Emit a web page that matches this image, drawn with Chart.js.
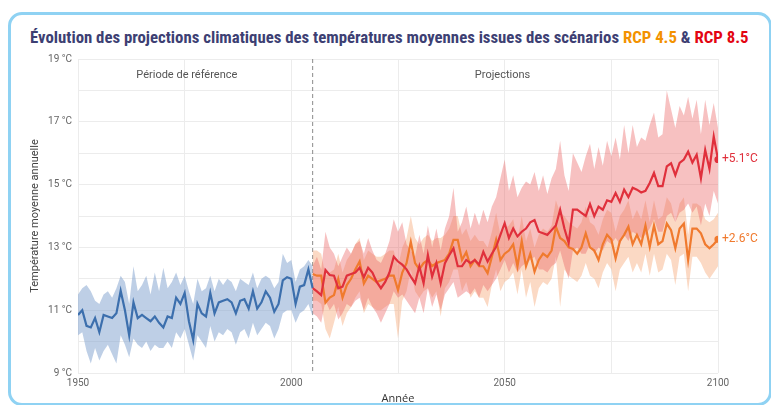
<!DOCTYPE html>
<html>
<head>
<meta charset="utf-8">
<script src="https://cdn.jsdelivr.net/npm/chart.js@4.4.0/dist/chart.umd.min.js"></script>
<style>
  html, body { margin: 0; padding: 0; background: #fff; }
  body { width: 771px; height: 405px; position: relative; overflow: hidden; }
  #frame {
    position: absolute; left: 8px; top: 12px; width: 758px; height: 388px;
    border: 3px solid #8fd2f3; border-radius: 14px;
  }
  #title {
    position: absolute; left: 30px; top: 27px; white-space: nowrap;
    font-family: "Liberation Sans Narrow", "Roboto Condensed", "Roboto", sans-serif;
    font-weight: bold; font-size: 16.8px; color: #3d3f73;
  }
  #title .o { color: #f39200; }
  #title .r { color: #e30613; }
  #chart { position: absolute; left: 0; top: 0; }
</style>
</head>
<body>
<div id="frame"></div>
<div id="title">Évolution des projections climatiques des températures moyennes issues des scénarios <span class="o">RCP 4.5</span> &amp; <span class="r">RCP 8.5</span></div>
<canvas id="chart" width="771" height="405"></canvas>
<script>
// Années
var histStart = 1950, projStart = 2005;
var histYears = [];
for (var i = 1950; i <= 2005; i++) histYears.push(i);
var projYears = [];
for (var j = 2005; j <= 2100; j++) projYears.push(j);

// Période de référence (1950-2005)
var histMean = [10.85,11.0,10.5,10.45,10.75,10.3,10.85,10.8,10.75,10.9,
  11.62,11.0,10.2,11.25,10.75,10.85,10.75,10.65,10.8,10.6,
  10.45,10.8,10.75,11.4,11.2,11.55,10.65,10.05,11.2,10.9,
  10.8,11.55,10.9,11.25,11.3,11.35,11.25,10.9,11.3,11.35,
  11.05,11.6,11.05,11.25,11.6,11.4,10.95,11.2,11.95,12.05,
  12.0,11.2,11.75,11.8,12.3,11.7];
var histHigh = [11.5,11.7,11.8,11.6,11.3,11.2,11.5,11.6,11.4,11.7,
  12.1,11.9,11.2,12.4,11.6,11.8,12.1,11.5,12.2,11.6,
  12.35,11.7,11.9,12.2,11.8,12.1,11.6,11.2,12.0,11.6,
  11.7,12.1,11.6,12.0,11.8,12.0,11.9,11.6,12.0,11.9,
  11.8,12.2,11.7,12.0,12.1,12.0,11.7,11.9,12.8,12.5,
  12.6,11.9,12.3,12.4,12.6,12.4];
var histLow = [10.2,10.3,9.7,9.3,9.8,9.4,9.7,9.9,9.6,9.3,
  10.2,9.9,9.5,10.1,9.9,9.8,10.0,9.7,9.9,9.8,
  9.8,10.0,9.8,10.3,10.1,10.4,9.9,9.4,10.2,10.0,
  9.8,10.5,10.0,10.3,10.2,10.4,10.3,9.9,10.3,10.4,
  10.1,10.6,10.2,10.4,10.6,10.5,10.1,10.4,10.9,11.0,
  11.0,10.6,10.9,11.0,11.2,10.8];

// RCP 8.5 (2005-2100)
var rcp85Mean = [11.7,11.6,11.48,12.28,12.12,12.1,11.7,11.75,12.1,12.15,
  12.2,12.35,12.05,12.35,12.2,11.9,11.7,11.9,12.2,12.7,
  12.55,12.45,12.3,12.07,11.86,12.4,11.86,12.76,12.07,12.5,
  11.86,12.5,12.75,12.97,12.4,12.4,12.6,12.5,12.6,12.45,
  12.86,12.55,12.8,13.02,13.4,13.77,13.3,13.6,13.35,13.5,
  13.6,13.8,13.87,13.5,13.45,13.4,13.55,13.7,14.2,13.6,
  13.14,14.2,14.2,14.1,14.0,14.38,14.0,14.3,14.2,14.5,
  14.45,14.73,14.45,14.84,14.6,14.9,14.84,14.75,14.8,15.05,
  15.37,14.95,14.95,15.58,15.68,15.3,15.69,15.8,16.05,15.7,
  15.95,15.2,16.1,15.5,16.53,15.8];
var rcp85High = [12.4,12.7,12.3,13.5,13.0,12.8,12.4,12.7,13.0,12.8,
  13.1,13.2,12.8,13.3,12.9,12.6,12.5,12.8,13.2,13.9,
  13.5,13.8,13.1,12.9,12.7,13.4,12.8,13.7,13.0,13.6,
  12.9,13.6,14.0,14.9,13.5,13.8,14.3,13.6,14.1,13.7,
  14.2,13.8,14.3,14.6,15.2,15.8,14.8,15.3,14.6,14.9,
  15.1,15.0,15.4,14.8,15.3,14.7,15.2,15.5,16.4,15.3,
  14.8,16.0,15.7,15.4,15.9,16.3,15.5,16.2,15.6,16.4,
  15.9,16.5,15.8,16.9,16.0,16.9,16.2,16.5,16.4,16.9,
  17.3,16.5,16.6,18.0,17.4,16.8,17.5,17.2,17.8,17.1,
  17.7,16.6,17.7,16.9,17.6,16.8];
var rcp85Low = [10.9,10.8,10.6,11.3,11.0,11.2,10.7,10.9,11.2,11.1,
  11.3,11.4,11.0,11.4,11.1,10.9,10.6,10.9,11.2,11.6,
  11.4,11.5,11.3,11.1,10.9,11.4,10.9,11.7,11.1,11.5,
  11.0,11.5,11.7,11.9,11.4,11.5,11.6,11.5,11.7,11.4,
  11.8,11.6,11.8,12.0,12.3,12.6,12.2,12.5,12.2,12.4,
  12.5,12.6,12.7,12.3,12.3,12.2,12.4,12.5,12.9,12.4,
  12.0,12.9,13.0,12.8,12.8,13.1,12.8,13.0,12.9,13.2,
  13.1,13.3,13.1,13.4,13.2,13.5,13.4,13.3,13.4,13.6,
  13.9,13.5,13.5,14.0,14.1,13.8,14.1,14.2,14.4,14.1,
  14.3,13.7,14.4,14.0,14.8,14.4];

// RCP 4.5 (2005-2100)
var rcp45Mean = [12.15,12.1,12.1,11.24,11.4,11.48,12.0,11.4,11.8,12.0,
  12.3,12.55,11.85,12.1,12.0,11.9,11.95,12.0,12.1,12.1,
  11.64,12.2,12.5,13.18,12.5,12.3,12.5,12.6,12.4,12.5,
  12.55,12.6,12.8,13.24,13.24,12.6,12.85,12.4,12.6,12.4,
  12.4,12.18,12.7,13.24,12.6,12.8,12.9,13.1,12.4,13.2,
  12.4,12.8,12.23,12.6,12.8,12.7,12.9,13.66,13.3,13.2,
  13.0,12.95,12.8,13.0,13.45,13.0,12.9,12.6,13.1,13.4,
  13.25,12.65,13.2,13.4,13.66,13.1,13.4,13.1,13.7,13.02,
  13.7,13.1,13.2,13.76,13.55,12.97,13.6,13.76,12.6,13.6,
  13.6,13.45,13.1,12.97,13.1,13.26];
var rcp45High = [12.9,12.9,12.8,12.1,12.2,12.3,12.8,12.2,12.6,12.8,
  13.1,13.3,12.6,12.9,12.8,12.7,12.7,12.8,12.9,12.9,
  12.4,13.0,13.3,14.0,13.3,13.1,13.3,13.4,13.2,13.3,
  13.3,13.4,13.6,14.0,14.0,13.4,13.6,13.2,13.4,13.2,
  13.2,13.0,13.5,14.1,13.4,13.6,13.7,13.9,13.2,14.0,
  13.2,13.6,13.0,13.4,13.6,13.5,13.7,14.5,14.1,14.0,
  13.8,13.7,13.6,13.8,14.3,13.8,13.7,13.4,13.9,14.2,
  14.1,13.5,14.0,14.2,14.5,13.9,14.2,13.9,14.5,13.8,
  14.5,13.9,14.0,14.6,14.4,13.8,14.4,14.6,13.4,14.4,
  14.4,14.3,13.9,13.8,13.9,14.1];
var rcp45Low = [11.3,11.3,11.2,10.4,10.1,10.6,11.1,10.5,10.9,11.1,
  11.4,11.6,10.9,11.2,11.1,11.0,11.0,11.1,11.2,11.2,
  10.1,11.3,11.6,12.3,11.6,11.4,11.6,11.7,11.4,11.6,
  10.8,11.7,11.9,12.3,12.3,11.6,11.9,11.4,11.6,11.4,
  11.4,11.1,11.8,12.3,11.6,11.9,12.0,12.2,11.5,12.3,
  11.4,11.9,11.1,11.7,11.9,11.8,12.0,12.7,11.1,12.3,
  12.1,12.0,11.9,12.1,12.5,12.1,12.0,11.7,12.2,12.5,
  12.3,11.6,12.3,12.5,12.7,12.2,12.5,12.2,12.8,12.1,
  12.8,12.2,12.3,12.8,12.6,11.8,12.7,12.8,11.6,12.7,
  12.7,12.5,12.2,12.0,12.2,12.4];

// Ticks et annotations
var yTickLabels = [9, 11, 13, 15, 17, 19];
var xTickLabels = [1950, 2000, 2050, 2100];
var endLabels = ['+2.6°C', '+5.1°C'];

function pts(years, vals) {
    return years.map(function (y, k) { return { x: y, y: vals[k] }; });
}

var lastIdx = projYears.length - 1;
function endDot(ctx) { return ctx.dataIndex === lastIdx ? 2.5 : 0; }

var line = { pointRadius: 0, tension: 0, fill: false };
var band = { pointRadius: 0, borderWidth: 0, tension: 0 };

// annotations : ligne pointillée, libellés de période, valeurs finales
var annotations = {
    id: 'annotations',
    beforeDatasetsDraw: function (chart) {
        var c = chart.ctx, a = chart.chartArea, x = chart.scales.x;
        var px = x.getPixelForValue(projStart);
        c.save();
        c.strokeStyle = '#8a8a8a';
        c.lineWidth = 1;
        c.setLineDash([4, 3]);
        c.beginPath();
        c.moveTo(px, a.top);
        c.lineTo(px, a.bottom);
        c.stroke();
        c.restore();
    },
    afterDatasetsDraw: function (chart) {
        var c = chart.ctx, a = chart.chartArea, x = chart.scales.x;
        c.save();
        c.font = '11px Roboto';
        c.fillStyle = '#555';
        c.textAlign = 'center';
        c.textBaseline = 'middle';
        c.fillText('Période de référence', x.getPixelForValue(1975.5), a.top + 16);
        c.fillText('Projections', x.getPixelForValue(2049.5), a.top + 16);

        var m45 = chart.getDatasetMeta(1).data[lastIdx];
        var m85 = chart.getDatasetMeta(0).data[lastIdx];
        c.textAlign = 'left';
        c.font = '12px Roboto';
        c.fillStyle = '#f07a2e';
        c.fillText(endLabels[0], m45.x + 4, m45.y);
        c.fillStyle = '#e0303c';
        c.fillText(endLabels[1], m85.x + 4, m85.y);
        c.restore();
    }
};

var ctx = document.getElementById('chart').getContext('2d');
var chart = new Chart(ctx, {
    type: 'line',
    data: {
        datasets: [
            Object.assign({ data: pts(projYears, rcp85Mean), borderColor: '#e0303c', borderWidth: 2.2,
                pointRadius: endDot, pointBackgroundColor: '#e0303c', order: 0 }, { tension: 0, fill: false }),
            Object.assign({ data: pts(projYears, rcp45Mean), borderColor: '#f07a2e', borderWidth: 2.2,
                pointRadius: endDot, pointBackgroundColor: '#f07a2e', order: 0 }, { tension: 0, fill: false }),
            Object.assign({ data: pts(histYears, histMean), borderColor: '#3c6fad', borderWidth: 2.2, order: 0 }, line),
            Object.assign({ data: pts(projYears, rcp85High), backgroundColor: 'rgba(236,100,100,0.4)', fill: '+1', order: 1 }, band),
            Object.assign({ data: pts(projYears, rcp85Low), fill: false, order: 1 }, band),
            Object.assign({ data: pts(projYears, rcp45High), backgroundColor: 'rgba(245,165,115,0.42)', fill: '+1', order: 2 }, band),
            Object.assign({ data: pts(projYears, rcp45Low), fill: false, order: 2 }, band),
            Object.assign({ data: pts(histYears, histHigh), backgroundColor: 'rgba(125,160,205,0.5)', fill: '+1', order: 2 }, band),
            Object.assign({ data: pts(histYears, histLow), fill: false, order: 2 }, band)
        ]
    },
    options: {
        responsive: false,
        animation: false,
        layout: { padding: { left: 0, top: 59, right: 53, bottom: 0 } },
        plugins: { legend: { display: false }, tooltip: { enabled: false } },
        scales: {
            x: {
                type: 'linear', min: 1950, max: 2100,
                afterFit: function (s) { s.height = 32; },
                border: { display: false },
                grid: { color: '#ececec', drawTicks: false },
                ticks: {
                    stepSize: 25, padding: 4, color: '#666', font: { family: 'Roboto', size: 10 },
                    callback: function (v) { return xTickLabels.indexOf(v) >= 0 ? String(v) : ''; }
                },
                title: { display: true, text: 'Année', color: '#333', padding: { top: 0, bottom: 0 },
                    font: { family: 'Open Sans', size: 11 } }
            },
            y: {
                min: 9, max: 19,
                afterFit: function (s) { s.width = 78; },
                border: { display: false },
                grid: { color: '#ececec', drawTicks: false },
                ticks: {
                    stepSize: 1, padding: 6, color: '#666', font: { family: 'Roboto', size: 10 },
                    callback: function (v) { return yTickLabels.indexOf(v) >= 0 ? v + ' °C' : ''; }
                },
                title: { display: true, text: 'Température moyenne annuelle', color: '#444',
                    padding: { top: 29, bottom: 0 }, font: { family: 'Roboto', size: 11 } }
            }
        }
    },
    plugins: [annotations]
});
</script>
</body>
</html>
